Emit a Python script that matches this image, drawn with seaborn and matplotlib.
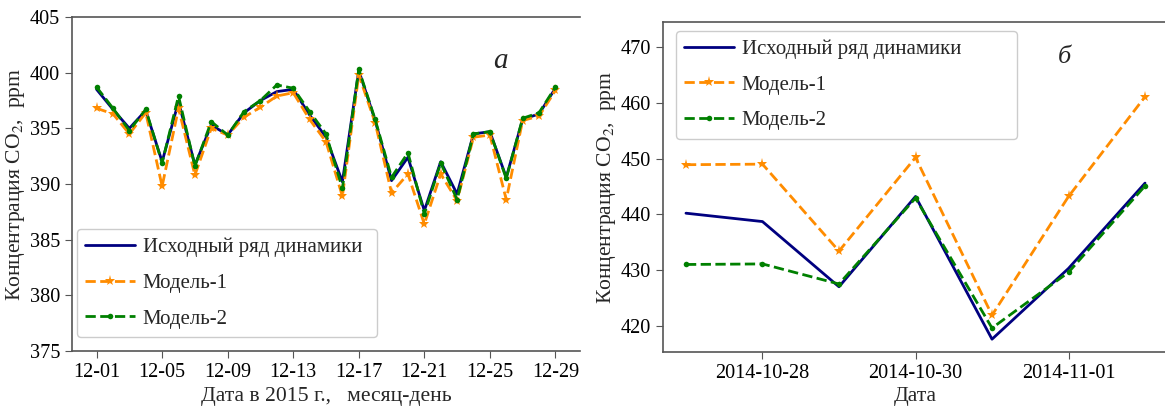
import numpy as np
import pandas as pd
import matplotlib
matplotlib.use("Agg")
import matplotlib.pyplot as plt
import matplotlib.dates as mdates
import seaborn as sns

# ---- data: panel a (December 2015) ----
dates_a = pd.date_range("2015-12-01", "2015-12-29", freq="D")
orig_a = [398.5, 396.7, 395.0, 396.6, 392.0, 397.4, 391.7, 395.3, 394.4, 396.4,
          397.5, 398.3, 398.5, 396.2, 394.2, 390.2, 400.2, 395.7, 390.3, 392.4,
          387.6, 392.0, 389.1, 394.5, 394.7, 390.6, 395.8, 396.3, 398.6]
model1_a = [396.8, 396.3, 394.5, 396.4, 389.8, 396.8, 390.8, 395.0, 394.4, 396.0,
            396.9, 397.9, 398.2, 395.8, 393.8, 388.9, 399.8, 395.5, 389.2, 390.9,
            386.4, 390.9, 388.5, 394.2, 394.4, 388.6, 395.7, 396.1, 398.4]
model2_a = [398.7, 396.8, 394.8, 396.7, 391.9, 397.9, 391.6, 395.6, 394.4, 396.5,
            397.5, 398.9, 398.6, 396.5, 394.5, 389.6, 400.3, 395.8, 390.6, 392.8,
            387.3, 391.9, 388.6, 394.5, 394.7, 390.5, 395.9, 396.4, 398.7]

# ---- data: panel b (Oct/Nov 2014) ----
dates_b = pd.date_range("2014-10-27", "2014-11-02", freq="D")
orig_b = [440.2, 438.7, 427.0, 443.2, 417.6, 430.3, 445.6]
model1_b = [448.9, 449.0, 433.4, 450.2, 421.9, 443.2, 461.1]
model2_b = [431.0, 431.1, 427.5, 442.9, 419.6, 429.6, 445.1]

labels = ["Исходный ряд динамики", "Модель-1", "Модель-2"]
ylabel = "Концентрация CO$_2$,  ppm"

sns.set_style("ticks")
plt.rcParams['font.family'] = ['Liberation Serif', 'DejaVu Serif']
plt.rcParams['mathtext.fontset'] = 'stix'
plt.rcParams['font.size'] = 14

fig = plt.figure(figsize=(11.65, 4.09), dpi=100)
ax1 = fig.add_axes([72/1165, 1-351/409, (580-72)/1165, (351-17)/409])
ax2 = fig.add_axes([663/1165, 1-352/409, (1168-663)/1165, (352-22)/409])

spine_col = "#555555"

def draw(ax, d, o, m1, m2):
    sns.lineplot(x=d, y=o, ax=ax, color="navy", lw=2, label=labels[0])
    sns.lineplot(x=d, y=m1, ax=ax, color="darkorange", lw=2, linestyle="--",
                 marker="*", markersize=8, markeredgewidth=0, label=labels[1])
    sns.lineplot(x=d, y=m2, ax=ax, color="green", lw=2, linestyle="--",
                 marker="o", markersize=4, markeredgewidth=0, label=labels[2])
    for s in ["left", "bottom", "top"]:
        ax.spines[s].set_color(spine_col)
        ax.spines[s].set_linewidth(1.2)
    ax.spines["right"].set_visible(False)
    ax.tick_params(colors=spine_col, labelcolor="black", labelsize=14.6, length=5)
    ax.set_ylabel(ylabel, fontsize=15.6, labelpad=2)

leg_kw = dict(borderaxespad=0, fontsize=15, labelspacing=0.78, handlelength=2.4,
              handletextpad=0.35, frameon=True, edgecolor="#cccccc",
              framealpha=1, mode="expand")

draw(ax1, dates_a, orig_a, model1_a, model2_a)
ax1.set_xlim(dates_a[0] - pd.Timedelta(days=1.5), dates_a[-1] + pd.Timedelta(days=1.5))
ax1.set_ylim(375, 405)
ax1.set_yticks(np.arange(375, 406, 5))
ax1.xaxis.set_major_locator(mdates.DayLocator(bymonthday=[1, 5, 9, 13, 17, 21, 25, 29]))
ax1.xaxis.set_major_formatter(mdates.DateFormatter("%m-%d"))
ax1.set_xlabel("Дата в 2015 г.,   месяц-день", fontsize=15.6)
ax1.text(0.829, 0.847, "a", transform=ax1.transAxes, fontsize=21, style="italic",
         va="baseline")
ax1.legend(loc="lower left", bbox_to_anchor=(0.01, 0.042, 0.59, 0.326), **leg_kw)

draw(ax2, dates_b, orig_b, model1_b, model2_b)
ax2.set_xlim(dates_b[0] - pd.Timedelta(days=0.3), dates_b[-1] + pd.Timedelta(days=0.3))
ax2.set_ylim(415.3, 474.5)
ax2.set_yticks(np.arange(420, 471, 10))
ax2.set_xticks(pd.to_datetime(["2014-10-28", "2014-10-30", "2014-11-01"]))
ax2.xaxis.set_major_formatter(mdates.DateFormatter("%Y-%m-%d"))
ax2.set_xlabel("Дата", fontsize=15.6, labelpad=3)
ax2.text(0.782, 0.876, "б", transform=ax2.transAxes, fontsize=19, style="italic",
         va="baseline")
ax2.legend(loc="upper left", bbox_to_anchor=(0.026, 0.973, 0.675, 0.0), **leg_kw)

fig.savefig("out.png", dpi=100)
